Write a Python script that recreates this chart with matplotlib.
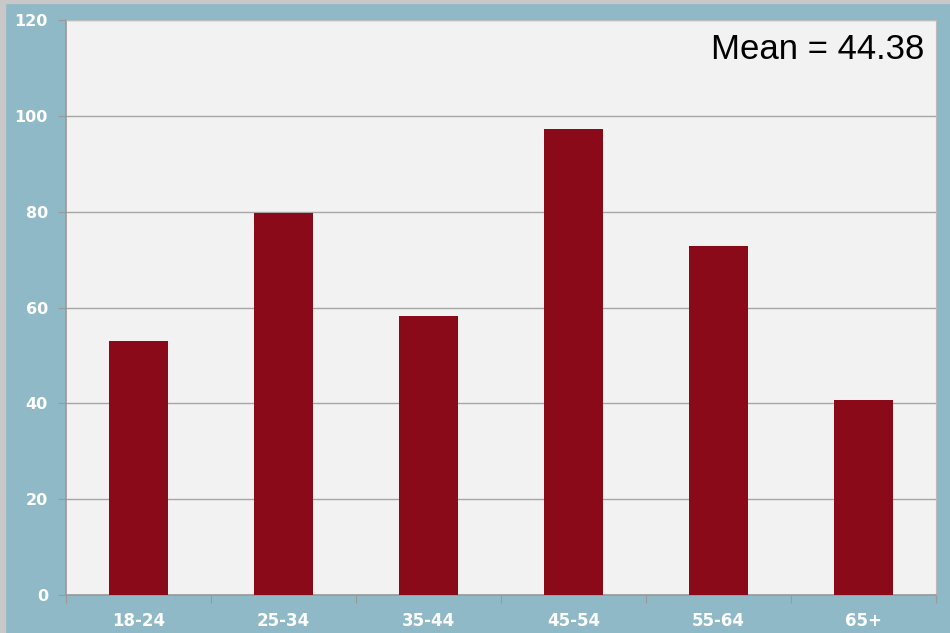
import matplotlib
matplotlib.use("Agg")
import matplotlib.pyplot as plt
from matplotlib.patches import Rectangle
import numpy as np

categories = ["18-24", "25-34", "35-44", "45-54", "55-64", "65+"]
values = [53.0, 79.7, 58.2, 97.3, 72.8, 40.7]
yticks = [0, 20, 40, 60, 80, 100, 120]
mean_label = "Mean = 44.38"

W, H = 950, 633
fig = plt.figure(figsize=(W / 100, H / 100), dpi=100)
fig.patch.set_facecolor("#8FB9C6")
# light gray border at left/top of the frame
fig.patches.append(Rectangle((0, 0), 5 / W, 1, transform=fig.transFigure, color="#C8C8C8", zorder=0))
fig.patches.append(Rectangle((0, 1 - 3 / H), 1, 3 / H, transform=fig.transFigure, color="#C8C8C8", zorder=0))

ax = fig.add_axes([66 / W, 1 - 595 / H, (936 - 66) / W, (595 - 20) / H])
ax.set_facecolor("#F2F2F2")
x = np.arange(len(categories))
ax.bar(x, values, width=0.41, color="#8B0A1A", zorder=3)
ax.set_xlim(-0.5, len(categories) - 0.5)
ax.set_ylim(0, 120)
ax.set_yticks(yticks)
ax.set_yticklabels([str(t) for t in yticks], color="white", fontweight="bold", fontsize=11.5, family="DejaVu Sans")
ax.yaxis.grid(True, color="#A6A6A6", linewidth=1, zorder=1)
ax.set_xticks(np.arange(len(categories) + 1) - 0.5)
ax.set_xticklabels([])
ax.set_xticks(x, minor=True)
ax.set_xticklabels(categories, minor=True, color="white", fontweight="bold", fontsize=12, family="DejaVu Sans")
ax.tick_params(axis="x", which="minor", length=0, pad=12)
ax.tick_params(axis="x", which="major", length=6, color="#999999", direction="out")
ax.tick_params(axis="y", length=6, color="#999999", direction="out", pad=7)
for s in ["left", "bottom"]:
    ax.spines[s].set_color("#999999")
    ax.spines[s].set_linewidth(1.2)
for s in ["top", "right"]:
    ax.spines[s].set_color("#BBBBBB")
    ax.spines[s].set_linewidth(0.8)
ax.text(0.987, 0.977, mean_label, transform=ax.transAxes, ha="right", va="top",
        fontsize=25, color="black", family="Liberation Sans", fontweight="normal")
fig.savefig("out.png", dpi=100, facecolor=fig.get_facecolor())
